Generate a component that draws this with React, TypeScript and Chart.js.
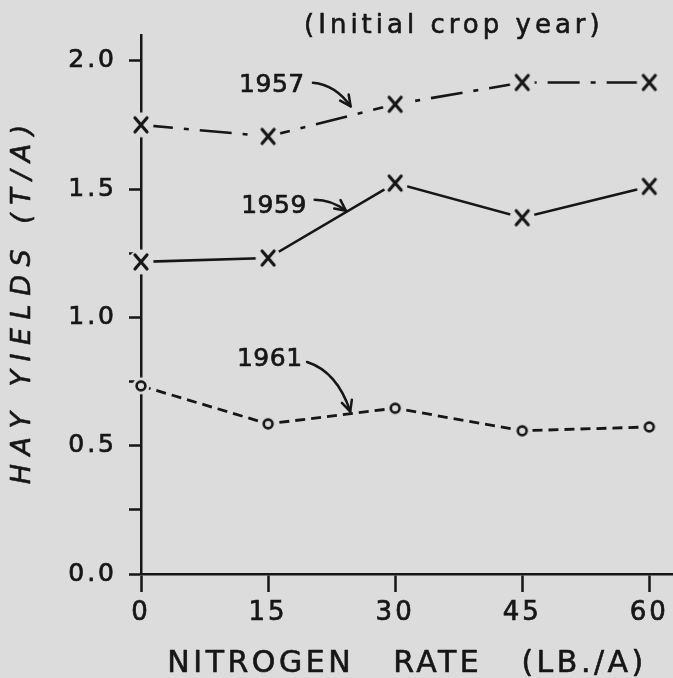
import { useEffect, useRef } from 'react';
import { Chart, registerables } from 'chart.js';

Chart.register(...registerables);

// ---- data ----
const nitrogenRates = [0, 15, 30, 45, 60];
const yield1957 = [1.75, 1.705, 1.83, 1.915, 1.915];
const yield1959 = [1.216, 1.231, 1.523, 1.388, 1.51];
const yield1961 = [0.733, 0.585, 0.646, 0.558, 0.573];

const xTickValues = [0, 15, 30, 45, 60];
const yTickValues = [0, 0.25, 0.5, 0.75, 1.0, 1.25, 1.5, 1.75, 2.0];
const yLabelValues = [0, 0.5, 1.0, 1.5, 2.0];

const chartTitle = '(Initial crop year)';
const xTitle = 'NITROGEN   RATE   (LB./A)';
const yTitle = 'HAY YIELDS (T/A)';

// series labels with arrows, in data units
const seriesNotes = [
  { text: '1957', at: [15.45, 1.9025], from: [20.3, 1.914], ctrl: [22.94, 1.906], to: [24.75, 1.822] },
  { text: '1959', at: [15.7, 1.431], from: [20.5, 1.458], ctrl: [22.47, 1.458], to: [24.2, 1.415] },
  { text: '1961', at: [15.2, 0.834], from: [19.6, 0.826], ctrl: [23.17, 0.788], to: [24.7, 0.633] },
];

const BG = '#dcdcdc';
const INK = '#161616';
const FONT = '"DejaVu Sans", "Noto Sans", sans-serif';

function makeXMarker() {
  const c = document.createElement('canvas');
  c.width = 28;
  c.height = 30;
  const g = c.getContext('2d')!;
  g.fillStyle = BG;
  g.beginPath();
  g.arc(14, 15, 12.5, 0, Math.PI * 2);
  g.fill();
  g.strokeStyle = INK;
  g.lineWidth = 3.2;
  g.lineCap = 'round';
  g.beginPath();
  g.moveTo(8, 8);
  g.lineTo(20, 22);
  g.moveTo(20, 8);
  g.lineTo(8, 22);
  g.stroke();
  return c;
}

function makeOMarker() {
  const c = document.createElement('canvas');
  c.width = 20;
  c.height = 20;
  const g = c.getContext('2d')!;
  g.fillStyle = BG;
  g.beginPath();
  g.arc(10, 10, 8.5, 0, Math.PI * 2);
  g.fill();
  g.strokeStyle = INK;
  g.lineWidth = 2.6;
  g.beginPath();
  g.arc(10, 10, 4.4, 0, Math.PI * 2);
  g.stroke();
  return c;
}

const spacingPlugin = {
  id: 'spacing',
  beforeLayout(chart: any) {
    chart.ctx.letterSpacing = '3px';
  },
  beforeDraw(chart: any) {
    chart.ctx.letterSpacing = '3px';
  },
};

function boldText(ctx: CanvasRenderingContext2D, s: string, x: number, y: number) {
  ctx.fillText(s, x, y);
  ctx.strokeText(s, x, y);
}

const notesPlugin = {
  id: 'notes',
  afterDatasetsDraw(chart: any) {
    const { ctx, scales } = chart;
    const X = (v: number) => scales.x.getPixelForValue(v);
    const Y = (v: number) => scales.y.getPixelForValue(v);
    ctx.save();
    ctx.fillStyle = INK;
    ctx.strokeStyle = INK;
    ctx.letterSpacing = '0.5px';
    ctx.font = `25px ${FONT}`;
    ctx.textAlign = 'center';
    ctx.textBaseline = 'middle';
    ctx.lineCap = 'round';
    ctx.lineJoin = 'round';
    for (const n of seriesNotes) {
      ctx.lineWidth = 0.7;
      boldText(ctx, n.text, X(n.at[0]), Y(n.at[1]));
      ctx.lineWidth = 2.5;
      const fx = X(n.from[0]), fy = Y(n.from[1]);
      const cx = X(n.ctrl[0]), cy = Y(n.ctrl[1]);
      const tx = X(n.to[0]), ty = Y(n.to[1]);
      ctx.beginPath();
      ctx.moveTo(fx, fy);
      ctx.quadraticCurveTo(cx, cy, tx, ty);
      ctx.stroke();
      const ang = Math.atan2(ty - cy, tx - cx);
      const L = 12, spread = 0.45;
      ctx.beginPath();
      ctx.moveTo(tx - L * Math.cos(ang - spread), ty - L * Math.sin(ang - spread));
      ctx.lineTo(tx, ty);
      ctx.lineTo(tx - L * Math.cos(ang + spread), ty - L * Math.sin(ang + spread));
      ctx.stroke();
    }
    ctx.restore();
  },
};

const titlesPlugin = {
  id: 'titles',
  afterDraw(chart: any) {
    const { ctx, chartArea } = chart;
    ctx.save();
    ctx.fillStyle = INK;
    ctx.strokeStyle = INK;
    ctx.lineWidth = 0.6;
    ctx.lineJoin = 'round';
    ctx.textAlign = 'center';
    ctx.textBaseline = 'middle';
    const sx = chart.scales.x;

    ctx.letterSpacing = '4px';
    ctx.font = `26px ${FONT}`;
    boldText(ctx, chartTitle, sx.getPixelForValue(36.7) + 2, 26);

    ctx.letterSpacing = '3.5px';
    ctx.font = `30px ${FONT}`;
    boldText(ctx, xTitle, sx.getPixelForValue(31.2) + 1.75, 664);

    ctx.letterSpacing = '8.5px';
    ctx.font = `oblique 27px ${FONT}`;
    ctx.translate(23, (chartArea.top + chartArea.bottom) / 2);
    ctx.rotate(-Math.PI / 2);
    boldText(ctx, yTitle, 4.25, 0);
    ctx.restore();
  },
};

export default function App() {
  const ref = useRef<HTMLCanvasElement>(null);

  useEffect(() => {
    if (!ref.current) return;
    const xMark = makeXMarker();
    const oMark = makeOMarker();
    const pts = (ys: number[]) => nitrogenRates.map((x, i) => ({ x, y: ys[i] }));
    const common = {
      borderColor: INK,
      backgroundColor: INK,
      tension: 0,
      fill: false,
      clip: false as any,
      pointRadius: 8,
    };
    const chart = new Chart(ref.current, {
      type: 'line',
      data: {
        datasets: [
          { ...common, label: '1957', data: pts(yield1957), borderWidth: 2.6, borderDash: [32, 11, 5, 11], pointStyle: xMark as any },
          { ...common, label: '1959', data: pts(yield1959), borderWidth: 2.6, pointStyle: xMark as any },
          { ...common, label: '1961', data: pts(yield1961), borderWidth: 2.8, borderDash: [10, 6], pointStyle: oMark as any },
        ],
      },
      options: {
        animation: false,
        responsive: true,
        maintainAspectRatio: false,
        layout: { autoPadding: false, padding: { top: 35, left: 0, right: 0, bottom: 0 } },
        plugins: {
          legend: { display: false },
          tooltip: { enabled: false },
          title: { display: false },
        },
        scales: {
          x: {
            type: 'linear',
            min: 0,
            max: 62.8,
            z: 1,
            afterFit: (s: any) => {
              s.height = 104;
              s.paddingLeft = 0;
              s.paddingRight = 0;
            },
            afterBuildTicks: (s: any) => { s.ticks = xTickValues.map((v) => ({ value: v })); },
            border: { display: true, color: INK, width: 2.5 },
            grid: { drawOnChartArea: false, drawTicks: true, tickLength: 18, tickColor: INK, tickWidth: 2.5 },
            ticks: {
              color: INK,
              font: { family: FONT, size: 26 },
              padding: 6,
              maxRotation: 0,
              autoSkip: false,
              textStrokeColor: INK,
              textStrokeWidth: 0.7,
              callback: (v: any) => String(v),
            },
          },
          y: {
            type: 'linear',
            min: 0,
            max: 2.1,
            z: 1,
            afterFit: (s: any) => {
              s.width = 141;
              s.paddingTop = 0;
              s.paddingBottom = 0;
            },
            afterBuildTicks: (s: any) => { s.ticks = yTickValues.map((v) => ({ value: v })); },
            border: { display: true, color: INK, width: 2.5 },
            grid: { drawOnChartArea: false, drawTicks: true, tickLength: 12, tickColor: INK, tickWidth: 2.5 },
            ticks: {
              color: INK,
              font: { family: FONT, size: 25 },
              padding: 12,
              autoSkip: false,
              textStrokeColor: INK,
              textStrokeWidth: 0.7,
              callback: (v: any) =>
                yLabelValues.some((l) => Math.abs(l - Number(v)) < 1e-9) ? Number(v).toFixed(1) : '',
            },
          },
        },
      },
      plugins: [spacingPlugin, notesPlugin, titlesPlugin],
    });
    return () => chart.destroy();
  }, []);

  return (
    <div style={{ position: 'fixed', left: 0, top: 0, width: 673, height: 678, background: BG }}>
      <canvas ref={ref} />
    </div>
  );
}
